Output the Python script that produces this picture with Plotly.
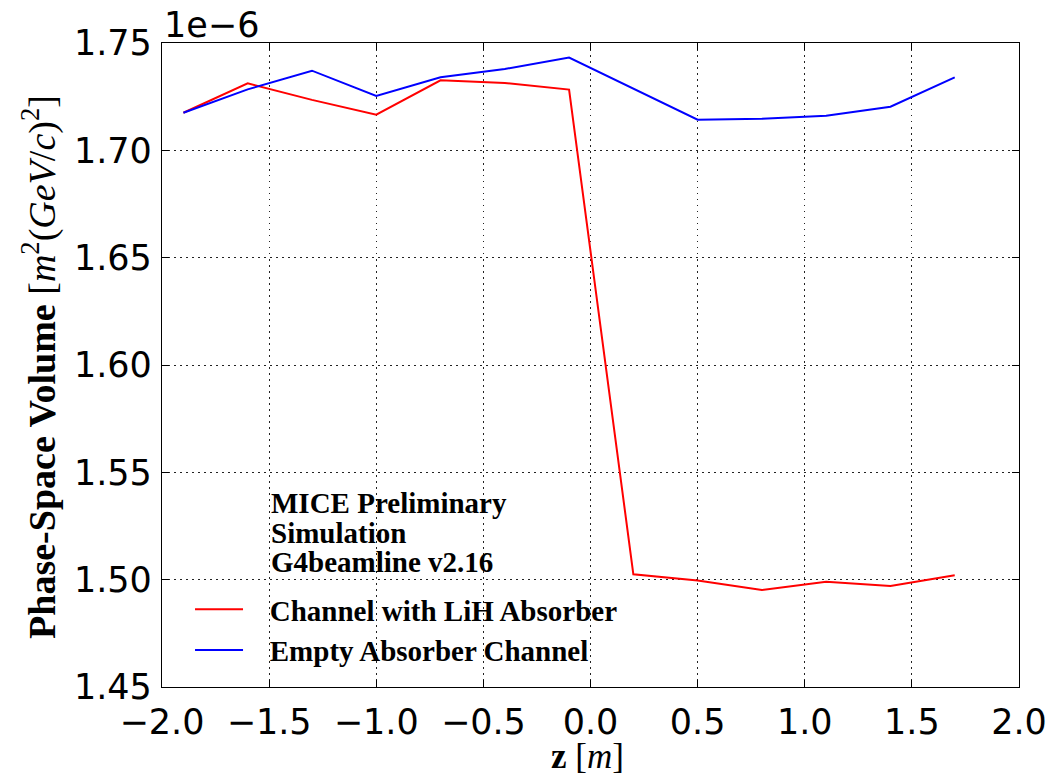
import plotly.graph_objects as go

# Longitudinal position along the channel [m]
z_positions = [-1.9, -1.6, -1.3, -1.0, -0.7, -0.4, -0.1, 0.2, 0.5, 0.8, 1.1, 1.4, 1.7]

# Phase-space volume, in units of 1e-6 m^2 (GeV/c)^2
volume_lih = [1.7175, 1.7312, 1.7235, 1.7166, 1.7326, 1.7314, 1.7283,
              1.5025, 1.4996, 1.4952, 1.4990, 1.4970, 1.5021]
volume_empty = [1.7175, 1.7284, 1.7371, 1.7253, 1.7340, 1.7379, 1.7432,
                1.7287, 1.7143, 1.7147, 1.7161, 1.7203, 1.7340]

series_names = ["Channel with LiH Absorber", "Empty Absorber Channel"]
series_colors = ["#ff0000", "#0000ff"]

x_ticks = [-2.0, -1.5, -1.0, -0.5, 0.0, 0.5, 1.0, 1.5, 2.0]
y_ticks = [1.45, 1.50, 1.55, 1.60, 1.65, 1.70, 1.75]

info_lines = ["MICE Preliminary", "Simulation", "G4beamline v2.16"]

SANS = "DejaVu Sans"
SERIF = "Liberation Serif"
# non-breaking spaces widen the gap between legend line sample and label
LEGEND_PAD = "\u00a0\u00a0\u00a0"

fig = go.Figure()
for name, vals, col in zip(series_names, [volume_lih, volume_empty], series_colors):
    fig.add_trace(go.Scatter(
        x=z_positions, y=vals, mode="lines", name=LEGEND_PAD + name,
        line=dict(color=col, width=2),
    ))

axis_common = dict(
    showline=True, linecolor="black", linewidth=1.3, mirror="allticks",
    ticks="inside", ticklen=7, tickwidth=1.2, tickcolor="black",
    showgrid=True, gridcolor="#222222", gridwidth=1, griddash="1.5px,4.5px",
    zeroline=False,
    tickfont=dict(family=SANS, size=35, color="black"),
)

fig.update_xaxes(range=[-2, 2], tickvals=x_ticks, tickformat=".1f",
                 ticklabelstandoff=4, **axis_common)
fig.update_yaxes(range=[1.45, 1.75], tickvals=y_ticks, tickformat=".2f",
                 ticklabelstandoff=2, **axis_common)

annotations = []
# Offset text for the y scale
annotations.append(dict(
    text="1e\u22126", xref="paper", yref="paper", x=0.0, y=1.028,
    xanchor="left", yanchor="middle", showarrow=False,
    font=dict(family=SANS, size=35, color="black"),
))
# Info block
for txt, yv in zip(info_lines, [1.5358, 1.5218, 1.5083]):
    annotations.append(dict(
        text="<b>%s</b>" % txt, x=-1.5, y=yv, xref="x", yref="y",
        xanchor="left", yanchor="middle", showarrow=False,
        font=dict(family=SERIF, size=29, color="black"),
    ))
# Axis labels
annotations.append(dict(
    text="<b>z</b> [<i>m</i>]", xref="paper", yref="paper",
    x=0.497, y=-0.1075, xanchor="center", yanchor="middle", showarrow=False,
    font=dict(family=SERIF, size=35, color="black"),
))
annotations.append(dict(
    text="<b>Phase-Space Volume</b> [<i>m</i><sup>2</sup>(<i>GeV</i>/<i>c</i>)<sup>2</sup>]",
    xref="paper", yref="paper", x=-0.1424, y=0.497, xanchor="center",
    yanchor="middle", textangle=-90, showarrow=False,
    font=dict(family=SERIF, size=38, color="black"),
))

fig.update_layout(
    width=1058, height=777,
    margin=dict(l=162, r=39, t=43, b=90),
    paper_bgcolor="white", plot_bgcolor="white",
    showlegend=True,
    legend=dict(
        x=0.0327, y=0.16, xanchor="left", yanchor="top",
        bgcolor="rgba(255,255,255,0)", borderwidth=0,
        font=dict(family=SERIF, size=29, color="black", weight="bold"),
        itemwidth=48, tracegroupgap=0,
    ),
    annotations=annotations,
)

fig.write_html("out.html")
